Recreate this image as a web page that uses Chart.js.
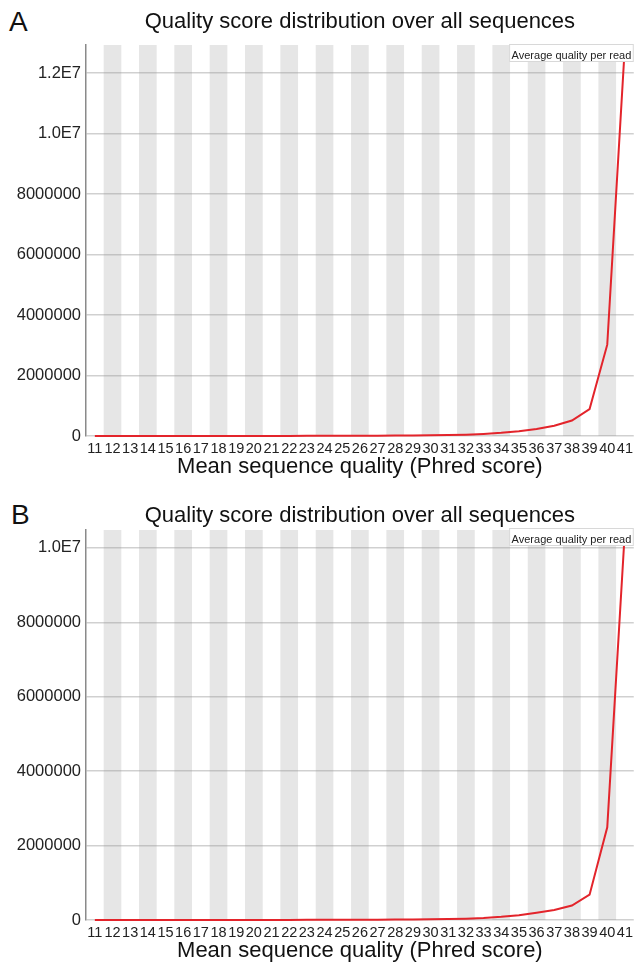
<!DOCTYPE html>
<html><head><meta charset="utf-8">
<script src="https://cdn.jsdelivr.net/npm/chart.js@4.4.0/dist/chart.umd.min.js"></script>
<style>
html,body{margin:0;padding:0;background:#fff;}
body{width:637px;height:968px;position:relative;overflow:hidden;font-family:"Liberation Sans",Arial,Helvetica,sans-serif;}
.panel{position:absolute;left:0;width:637px;height:484px;}
.letter{position:absolute;font-size:28px;line-height:1;color:#111;}
canvas{display:block;}
</style></head><body>
<div class="letter" style="left:9px;top:8px">A</div>
<div class="panel" style="top:0"><canvas id="cA" width="637" height="484"></canvas></div>
<div class="letter" style="left:11px;top:501px">B</div>
<div class="panel" style="top:484px"><canvas id="cB" width="637" height="484"></canvas></div>
<script>
const qualityScores = ['11','12','13','14','15','16','17','18','19','20','21','22','23','24','25','26','27','28','29','30','31','32','33','34','35','36','37','38','39','40','41'];
const readsA = [200,300,400,500,700,900,1200,1500,2000,2500,3200,4000,5000,6000,7500,9000,11000,14000,18000,24000,32000,45000,70000,105000,160000,230000,340000,510000,890000,3020000,12930000];
const readsB = [150,250,300,400,550,700,950,1200,1600,2000,2600,3200,4000,4800,6000,7200,9000,11000,14500,19000,26000,36000,52000,85000,130000,195000,270000,390000,680000,2490000,10480000];
const yTicksA = [0, 2000000, 4000000, 6000000, 8000000, 10000000, 12000000];
const yTicksB = [0, 2000000, 4000000, 6000000, 8000000, 10000000];
const chartTitle = 'Quality score distribution over all sequences';
const xAxisTitle = 'Mean sequence quality (Phred score)';
const seriesName = 'Average quality per read';

const FONT = '"Liberation Sans", Arial, Helvetica, sans-serif';

const bandsPlugin = {
  id: 'bands',
  beforeDraw(chart) {
    const {ctx, chartArea: a, scales: {x}} = chart;
    const n = chart.data.labels.length;
    const w = a.width / n;
    ctx.save();
    ctx.fillStyle = '#e6e6e6';
    chart.data.labels.forEach((l, i) => {
      if (i % 2 === 1) {
        const c = x.getPixelForValue(i);
        ctx.fillRect(c - w / 2, a.top, w, a.bottom - a.top);
      }
    });
    ctx.restore();
  }
};

const panelTextPlugin = {
  id: 'panelText',
  afterDraw(chart, args, opts) {
    const {ctx, chartArea: a} = chart;
    ctx.save();
    ctx.font = '22px ' + FONT;
    ctx.fillStyle = '#111';
    ctx.textAlign = 'center';
    ctx.textBaseline = 'alphabetic';
    ctx.fillText(opts.title, (a.left + a.right) / 2, opts.titleBaseline);
    ctx.font = '11px ' + FONT;
    const tw = ctx.measureText(opts.legend).width;
    const bw = tw + 5, bh = 18;
    const bx = a.right - bw, by = opts.legendTop;
    ctx.fillStyle = '#fff';
    ctx.fillRect(bx, by, bw, bh);
    ctx.strokeStyle = '#d8d8d8';
    ctx.lineWidth = 1;
    ctx.strokeRect(bx + 0.5, by + 0.5, bw - 1, bh - 1);
    ctx.fillStyle = '#222';
    ctx.textAlign = 'left';
    ctx.fillText(opts.legend, bx + 2.5, by + 14.5);
    ctx.restore();
  }
};

function makeChart(id, values, tickValues, topPad, titleBaseline) {
  return new Chart(document.getElementById(id), {
    type: 'line',
    data: {
      labels: qualityScores,
      datasets: [{
        label: seriesName,
        data: values,
        borderColor: '#e3242b',
        borderWidth: 2,
        pointRadius: 0,
        tension: 0,
        fill: false,
        clip: false
      }]
    },
    options: {
      responsive: false,
      animation: false,
      events: [],
      layout: {padding: {top: topPad, right: 1, left: 0, bottom: 0}},
      plugins: {
        legend: {display: false},
        tooltip: {enabled: false},
        title: {display: false},
        panelText: {title: chartTitle, titleBaseline: titleBaseline, legend: seriesName, legendTop: 44}
      },
      scales: {
        x: {
          type: 'category',
          offset: true,
          grid: {display: false, drawTicks: false},
          border: {display: false},
          ticks: {autoSkip: false, maxRotation: 0, minRotation: 0, font: {family: FONT, size: 14.5}, color: '#222', padding: 4},
          title: {display: true, text: xAxisTitle, font: {family: FONT, size: 22}, color: '#111', padding: {top: 0, bottom: 4}},
          afterFit(s) { s.height = 48; }
        },
        y: {
          min: 0,
          max: Math.max(...values),
          afterBuildTicks(s) { s.ticks = tickValues.map(v => ({value: v})); },
          ticks: {
            font: {family: FONT, size: 16.5},
            color: '#222',
            padding: 5,
            callback: v => v >= 1e7 ? (v / 1e7).toFixed(1) + 'E7' : String(v)
          },
          grid: {color: 'rgba(150,150,150,0.45)', lineWidth: 1.5, drawTicks: false},
          border: {display: true, color: '#8a8a8a', width: 1.5},
          afterFit(s) { s.width = 86; }
        }
      }
    },
    plugins: [bandsPlugin, panelTextPlugin]
  });
}

makeChart('cA', readsA, yTicksA, 45, 28);
makeChart('cB', readsB, yTicksB, 46, 38);
</script>
</body></html>
